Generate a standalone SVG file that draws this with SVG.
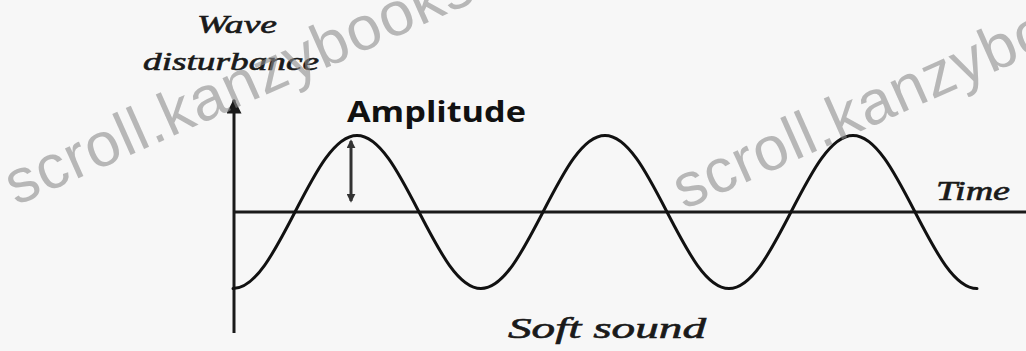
<svg xmlns="http://www.w3.org/2000/svg" width="1026" height="351" viewBox="0 0 1026 351">
  <style>
    .serif { font-family: "Liberation Serif", "DejaVu Serif", serif; font-style: italic; fill: #1a1a1a; stroke: #1a1a1a; stroke-width: 0.6; }
    .sans { font-family: "Open Sans", "Liberation Sans", sans-serif; font-weight: bold; fill: #111; }
    .wm { font-family: "Liberation Sans", Arial, sans-serif; font-size: 62px; letter-spacing: 1px; fill: #8c8c8c; fill-opacity: 0.6; }
    .axis { stroke: #1a1a1a; stroke-width: 3; fill: none; }
    .wave { stroke: #111; stroke-width: 3; fill: none; stroke-linecap: round; }
  </style>
  <defs>
    <marker id="axisHead" viewBox="0 0 10 10" refX="9" refY="5" markerWidth="5" markerHeight="5" orient="auto" markerUnits="strokeWidth">
      <path d="M0,0 L10,5 L0,10 z" fill="#1a1a1a"/>
    </marker>
    <marker id="ampHead" viewBox="0 0 10 10" refX="8" refY="5" markerWidth="3" markerHeight="3" orient="auto-start-reverse" markerUnits="strokeWidth">
      <path d="M0,0 L10,5 L0,10 z" fill="#333"/>
    </marker>
  </defs>
  <rect width="1026" height="351" fill="#f7f7f7"/>

  <g id="connectors">
    <line id="y-axis" class="axis" x1="234" y1="333" x2="234" y2="100" marker-end="url(#axisHead)"/>
    <line id="x-axis" class="axis" x1="234" y1="212" x2="1026" y2="212"/>
    <path id="wave" class="wave" d="M 233 288.5
      c 22.32,0 41.27,-36.33 62,-76.5
      c 20.73,-40.17 39.68,-76.5 62,-76.5
      c 22.32,0 41.27,36.33 62,76.5
      c 20.73,40.17 39.68,76.5 62,76.5
      c 22.32,0 41.27,-36.33 62,-76.5
      c 20.73,-40.17 39.68,-76.5 62,-76.5
      c 22.32,0 41.27,36.33 62,76.5
      c 20.73,40.17 39.68,76.5 62,76.5
      c 22.32,0 41.27,-36.33 62,-76.5
      c 20.73,-40.17 39.68,-76.5 62,-76.5
      c 22.32,0 41.27,36.33 62,76.5
      c 20.73,40.17 39.68,76.5 62,76.5"/>
    <line id="amplitude-arrow" x1="351" y1="201" x2="351" y2="141" stroke="#333" stroke-width="3" marker-start="url(#ampHead)" marker-end="url(#ampHead)"/>
  </g>

  <g id="label-wave-disturbance">
    <text class="serif" x="197" y="33" font-size="26" textLength="80" lengthAdjust="spacingAndGlyphs">Wave</text>
    <text class="serif" x="143" y="70" font-size="26" textLength="176" lengthAdjust="spacingAndGlyphs">disturbance</text>
  </g>
  <g id="label-amplitude">
    <text class="sans" x="347" y="122" font-size="29" textLength="179" lengthAdjust="spacingAndGlyphs">Amplitude</text>
  </g>
  <g id="label-time">
    <text class="serif" x="936" y="200" font-size="27" textLength="74" lengthAdjust="spacingAndGlyphs">Time</text>
  </g>
  <g id="label-soft-sound">
    <text class="serif" x="508" y="338" font-size="30" textLength="198" lengthAdjust="spacingAndGlyphs">Soft sound</text>
  </g>

  <g id="watermark">
    <text class="wm" transform="translate(16,206) rotate(-24)">scroll.kanzybooks</text>
    <text class="wm" transform="translate(684,210) rotate(-24)">scroll.kanzybooks</text>
  </g>
</svg>
